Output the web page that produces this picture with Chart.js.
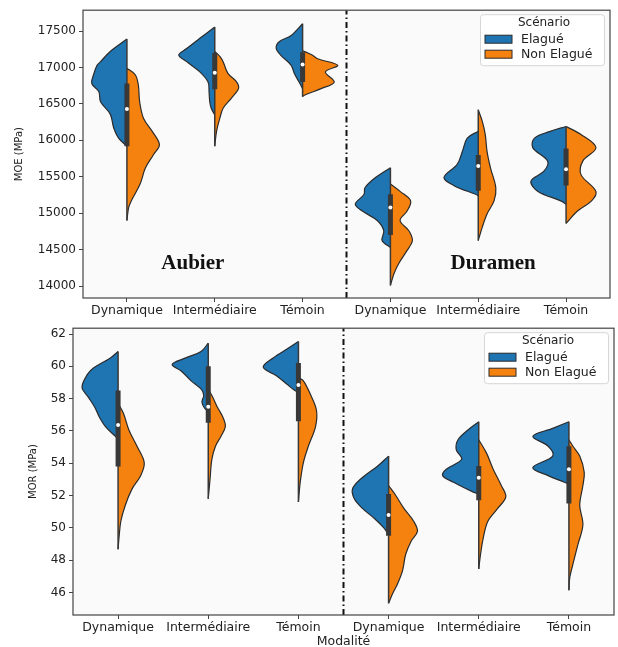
<!DOCTYPE html>
<html>
<head>
<meta charset="utf-8">
<script src="https://cdn.jsdelivr.net/npm/chart.js@4.4.1/dist/chart.umd.min.js"></script>
<style>
  html, body { margin: 0; padding: 0; background: #fff; }
  #top { position: absolute; left: 0; top: 0; width: 618px; height: 320px; }
  #bot { position: absolute; left: 0; top: 318px; width: 618px; height: 331px; }
</style>
</head>
<body>
<div id="top"><canvas id="moeChart"></canvas></div>
<div id="bot"><canvas id="morChart"></canvas></div>
<script>
// categories (Aubier x3, then Duramen x3) and hues
const modalites = ["Dynamique", "Intermédiaire", "Témoin", "Dynamique", "Intermédiaire", "Témoin"];
const scenarios = ["Elagué", "Non Elagué"];
const zones = ["Aubier", "Duramen"];

const moeTicks = [14000, 14500, 15000, 15500, 16000, 16500, 17000, 17500];
const morTicks = [46, 48, 50, 52, 54, 56, 58, 60, 62];

// violin half profiles: [value, half width]
// MOE (MPa)
const moeAubDynElague = [[17390,0],[17220,0.19],[17080,0.30],[17030,0.34],[16900,0.38],[16780,0.40],[16670,0.32],[16530,0.30],[16360,0.19],[16170,0.15],[16030,0.095],[15920,0]];
const moeAubDynNon = [[16990,0],[16900,0.095],[16760,0.13],[16530,0.145],[16300,0.19],[16120,0.29],[15940,0.37],[15800,0.30],[15620,0.21],[15400,0.15],[15170,0.05],[15080,0.02],[14900,0]];
const moeAubIntElague = [[17555,0],[17400,0.17],[17260,0.32],[17170,0.41],[17080,0.32],[16940,0.17],[16800,0.076],[16670,0.065],[16530,0.057],[16440,0.04],[16350,0]];
const moeAubIntNon = [[17220,0],[17150,0.06],[17080,0.095],[16920,0.15],[16800,0.25],[16710,0.27],[16580,0.19],[16440,0.095],[16300,0.057],[16120,0.02],[15920,0]];
const moeAubTemElague = [[17600,0],[17440,0.13],[17350,0.27],[17260,0.30],[17170,0.25],[17030,0.13],[16920,0.095],[16800,0.04],[16710,0]];
const moeAubTemNon = [[17230,0],[17170,0.11],[17120,0.17],[17030,0.40],[16940,0.26],[16800,0.36],[16710,0.21],[16620,0.02],[16600,0]];
const moeDurDynElague = [[15625,0],[15490,0.17],[15350,0.29],[15260,0.30],[15125,0.40],[15030,0.32],[14900,0.15],[14760,0.076],[14625,0.095],[14530,0]];
const moeDurDynNon = [[15400,0],[15300,0.11],[15170,0.23],[15030,0.19],[14900,0.11],[14760,0.21],[14625,0.25],[14490,0.19],[14310,0.095],[14170,0.04],[14010,0]];
const moeDurIntElague = [[16125,0],[16030,0.125],[15850,0.18],[15670,0.24],[15490,0.39],[15375,0.27],[15260,0.03],[15240,0]];
const moeDurIntNon = [[16420,0],[16260,0.046],[16080,0.08],[15850,0.10],[15620,0.14],[15350,0.20],[15170,0.18],[14990,0.10],[14810,0.046],[14625,0]];
const moeDurTemElague = [[16190,0],[16120,0.19],[16030,0.36],[15900,0.38],[15715,0.21],[15580,0.25],[15440,0.40],[15300,0.32],[15170,0.06],[15125,0]];
const moeDurTemNon = [[16190,0],[16080,0.17],[15900,0.34],[15715,0.19],[15530,0.17],[15300,0.34],[15170,0.29],[15030,0.13],[14860,0]];

const moeMin = [14900, 15920, 16600, 14010, 14625, 14860];
const moeQ1 = [15920, 16700, 16800, 14700, 15310, 15380];
const moeMedian = [16430, 16927, 17040, 15080, 15647, 15602];
const moeQ3 = [16780, 17200, 17210, 15260, 15800, 15890];
const moeMax = [17390, 17555, 17600, 15625, 16420, 16190];

// MOR (MPa)
const morAubDynElague = [[60.92,0],[60.52,0.085],[59.91,0.27],[59.5,0.34],[58.7,0.40],[58.09,0.33],[57.48,0.26],[56.88,0.21],[56.27,0.14],[55.66,0.03],[55.5,0]];
const morAubDynNon = [[57.7,0],[57.08,0.06],[56.06,0.12],[55.05,0.21],[54.04,0.29],[53.23,0.25],[52.41,0.155],[51.4,0.08],[50.39,0.03],[49.37,0.01],[48.67,0]];
const morAubIntElague = [[61.43,0],[60.92,0.08],[60.52,0.25],[60.12,0.40],[59.71,0.30],[59.1,0.19],[58.6,0.08],[58.2,0.05],[57.8,0.07],[57.4,0.04],[57.2,0]];
const morAubIntNon = [[58.6,0],[58.09,0.05],[57.48,0.10],[56.88,0.16],[56.27,0.19],[55.66,0.14],[55.05,0.08],[54.24,0.04],[53.02,0.02],[51.8,0]];
const morAubTemElague = [[61.53,0],[61.13,0.11],[60.52,0.28],[59.95,0.39],[59.4,0.24],[58.9,0.13],[58.5,0.04],[58.4,0]];
const morAubTemNon = [[59.3,0],[59.1,0.055],[58.3,0.13],[57.28,0.2],[56.27,0.19],[55.05,0.11],[54.04,0.055],[52.82,0.02],[51.6,0]];
const morDurDynElague = [[54.44,0],[53.83,0.12],[53.02,0.31],[52.41,0.40],[51.8,0.38],[51.2,0.29],[50.59,0.16],[49.98,0.05],[49.58,0]];
const morDurDynNon = [[52.62,0],[52.0,0.08],[51.2,0.17],[50.39,0.28],[49.78,0.32],[49.17,0.25],[48.36,0.19],[47.35,0.155],[46.54,0.10],[45.93,0.045],[45.32,0]];
const morDurIntElague = [[56.57,0],[56.06,0.12],[55.45,0.23],[54.84,0.25],[54.24,0.19],[53.63,0.36],[53.23,0.40],[52.82,0.28],[52.21,0.06],[52.1,0]];
const morDurIntNon = [[55.45,0],[54.64,0.085],[53.63,0.16],[52.62,0.25],[51.91,0.30],[51.2,0.21],[50.39,0.10],[49.37,0.05],[48.36,0.02],[47.45,0]];
const morDurTemElague = [[56.57,0],[56.16,0.18],[55.66,0.40],[55.05,0.23],[54.44,0.18],[53.73,0.40],[53.23,0.23],[52.82,0.05],[52.7,0]];
const morDurTemNon = [[55.45,0],[55.05,0.045],[54.44,0.12],[53.43,0.17],[52.62,0.155],[51.4,0.12],[50.19,0.155],[48.97,0.10],[47.76,0.045],[46.94,0.01],[46.13,0]];

const morMin = [48.67, 51.8, 51.6, 45.32, 47.45, 46.13];
const morQ1 = [53.8, 56.5, 56.6, 49.5, 51.7, 51.5];
const morMedian = [56.36, 57.5, 58.85, 50.8, 53.1, 53.63];
const morQ3 = [58.5, 60.0, 60.2, 52.1, 53.83, 55.05];
const morMax = [60.92, 61.43, 61.53, 54.44, 56.57, 56.57];

const BLUE = "#1f74b2";
const ORANGE = "#f5820f";
const EDGE = "#2b2b2b";
const INNER = "#383838";
const FONT = "'DejaVu Sans', sans-serif";

function half(profile, pos, side, color) {
  return {
    type: "line",
    data: profile.map(([v, w]) => ({ x: pos + side * w, y: v })),
    borderColor: EDGE,
    borderWidth: 1.2,
    backgroundColor: color,
    fill: "shape",
    tension: 0.35,
    pointRadius: 0
  };
}

function buildDatasets(elague, nonElague, lo, q1, med, q3, hi, yMin, yMax) {
  const ds = [];
  ds.push({
    type: "line", showLine: false,
    data: med.map((v, i) => ({ x: i, y: v })),
    pointRadius: 2, pointBackgroundColor: "#ffffff", pointBorderWidth: 0
  });
  med.forEach((_, i) => {
    ds.push({ type: "line", data: [{ x: i, y: q1[i] }, { x: i, y: q3[i] }],
      borderColor: INNER, borderWidth: 5, borderCapStyle: "butt", pointRadius: 0 });
    ds.push({ type: "line", data: [{ x: i, y: lo[i] }, { x: i, y: hi[i] }],
      borderColor: INNER, borderWidth: 1.5, pointRadius: 0 });
  });
  elague.forEach((p, i) => ds.push(half(p, i, -1, BLUE)));
  nonElague.forEach((p, i) => ds.push(half(p, i, 1, ORANGE)));
  // Aubier / Duramen separator
  ds.push({ type: "line", data: [{ x: 2.5, y: yMin }, { x: 2.5, y: yMax }],
    borderColor: "#111", borderWidth: 2, borderDash: [6, 3, 1.5, 3], pointRadius: 0 });
  return ds;
}

const framePlugin = {
  id: "frame",
  beforeDraw(chart) {
    const a = chart.chartArea, ctx = chart.ctx;
    ctx.save();
    ctx.fillStyle = "#fafafa";
    ctx.fillRect(a.left, a.top, a.right - a.left, a.bottom - a.top);
    ctx.restore();
  },
  afterDraw(chart) {
    const a = chart.chartArea, ctx = chart.ctx;
    ctx.save();
    ctx.strokeStyle = "#444";
    ctx.lineWidth = 1.2;
    ctx.strokeRect(a.left, a.top, a.right - a.left, a.bottom - a.top);
    ctx.restore();
  }
};

const zonePlugin = {
  id: "zoneText",
  afterDatasetsDraw(chart, args, opts) {
    if (!opts.show) return;
    const ctx = chart.ctx, xs = chart.scales.x, ys = chart.scales.y;
    ctx.save();
    ctx.font = "bold 21px 'Liberation Serif', 'Times New Roman', serif";
    ctx.fillStyle = "#111";
    ctx.textAlign = "center";
    ctx.textBaseline = "middle";
    zones.forEach((z, i) => ctx.fillText(z, xs.getPixelForValue(opts.x[i]), ys.getPixelForValue(opts.y)));
    ctx.restore();
  }
};

const legendPlugin = {
  id: "hueLegend",
  afterDraw(chart) {
    const a = chart.chartArea, ctx = chart.ctx;
    const w = 124, h = 51;
    const x0 = a.right - w - 6, y0 = a.top + 4;
    ctx.save();
    ctx.fillStyle = "rgba(255,255,255,0.85)";
    ctx.strokeStyle = "#d6d6d6";
    ctx.lineWidth = 1;
    ctx.beginPath();
    ctx.roundRect(x0 + 0.5, y0 + 0.5, w, h, 3);
    ctx.fill();
    ctx.stroke();
    ctx.fillStyle = "#222";
    ctx.font = "12px " + FONT;
    ctx.textBaseline = "middle";
    ctx.textAlign = "center";
    ctx.fillText("Scénario", x0 + w / 2 + 2, y0 + 9);
    ctx.font = "12.5px " + FONT;
    ctx.textAlign = "left";
    [BLUE, ORANGE].forEach((c, i) => {
      const yy = y0 + 25 + i * 15;
      ctx.fillStyle = c;
      ctx.fillRect(x0 + 5, yy - 4, 27, 8);
      ctx.strokeStyle = EDGE;
      ctx.strokeRect(x0 + 5, yy - 4, 27, 8);
      ctx.fillStyle = "#222";
      ctx.fillText(scenarios[i], x0 + 41, yy + 0.5);
    });
    ctx.restore();
  }
};

function makeChart(id, datasets, yMin, yMax, ticks, yTitle, yWidth, titlePad, xHeight, pad, xTitle, zone) {
  return new Chart(document.getElementById(id), {
    type: "line",
    data: { datasets: datasets },
    options: {
      responsive: true,
      maintainAspectRatio: false,
      animation: false,
      events: [],
      layout: { padding: pad },
      plugins: {
        legend: { display: false },
        tooltip: { enabled: false },
        zoneText: zone
      },
      scales: {
        x: {
          type: "linear", min: -0.5, max: 5.5,
          afterBuildTicks: s => { s.ticks = modalites.map((_, i) => ({ value: i })); },
          afterFit: s => { s.height = xHeight; },
          ticks: { callback: v => modalites[v], color: "#222", font: { family: FONT, size: 12.5 }, padding: 1, maxRotation: 0, autoSkip: false },
          grid: { drawOnChartArea: false, drawTicks: true, tickLength: 4, color: "#444" },
          border: { display: false },
          title: { display: !!xTitle, text: xTitle, color: "#222", font: { family: FONT, size: 12.5 }, padding: { top: 0, bottom: 0 } }
        },
        y: {
          type: "linear", min: yMin, max: yMax,
          afterBuildTicks: s => { s.ticks = ticks.map(v => ({ value: v })); },
          afterFit: s => { s.width = yWidth; },
          ticks: { color: "#222", font: { family: FONT, size: 12 }, padding: 3, callback: v => String(v) },
          grid: { drawOnChartArea: false, drawTicks: true, tickLength: 4, color: "#444" },
          border: { display: false },
          title: { display: true, text: yTitle, color: "#222", font: { family: FONT, size: 10 }, padding: { top: titlePad, bottom: 0 } }
        }
      }
    },
    plugins: [framePlugin, zonePlugin, legendPlugin]
  });
}

const moeYMin = 13837, moeYMax = 17786;
const morYMin = 44.6, morYMax = 62.36;

makeChart("moeChart",
  buildDatasets(
    [moeAubDynElague, moeAubIntElague, moeAubTemElague, moeDurDynElague, moeDurIntElague, moeDurTemElague],
    [moeAubDynNon, moeAubIntNon, moeAubTemNon, moeDurDynNon, moeDurIntNon, moeDurTemNon],
    moeMin, moeQ1, moeMedian, moeQ3, moeMax, moeYMin, moeYMax),
  moeYMin, moeYMax, moeTicks, "MOE (MPa)", 83, 13, 22,
  { top: 8, right: 8, left: 0, bottom: 0 }, "",
  { show: true, x: [0.75, 4.17], y: 14310 });

makeChart("morChart",
  buildDatasets(
    [morAubDynElague, morAubIntElague, morAubTemElague, morDurDynElague, morDurIntElague, morDurTemElague],
    [morAubDynNon, morAubIntNon, morAubTemNon, morDurDynNon, morDurIntNon, morDurTemNon],
    morMin, morQ1, morMedian, morQ3, morMax, morYMin, morYMax),
  morYMin, morYMax, morTicks, "MOR (MPa)", 73, 27, 34,
  { top: 5, right: 3, left: 0, bottom: 0 }, "Modalité",
  { show: false });
</script>
</body>
</html>
